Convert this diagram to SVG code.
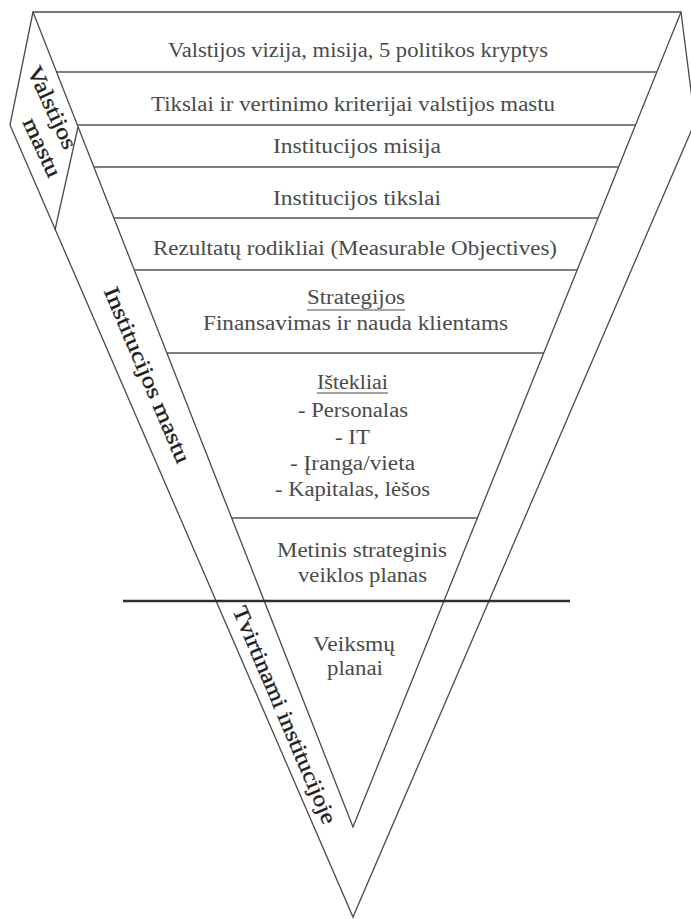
<svg xmlns="http://www.w3.org/2000/svg" width="691" height="919" viewBox="0 0 691 919">
  <style>
    .edge { fill: none; stroke: #4a4a4a; stroke-width: 1.3; stroke-linejoin: miter; }
    .tier { stroke: #555; stroke-width: 1.5; }
    .cut { stroke: #2e2e2e; stroke-width: 2.6; }
    .lbl { font-family: "Liberation Serif", "Times New Roman", serif; font-size: 20px; fill: #4a4a4a; text-anchor: middle; }
    .side { font-family: "Liberation Serif", "Times New Roman", serif; font-size: 22px; fill: #1e1e1e; stroke: #1e1e1e; stroke-width: 0.35; text-anchor: middle; }
    .ul { stroke: #4a4a4a; stroke-width: 1.1; }
  </style>
  <rect width="691" height="919" fill="#ffffff"/>

  <!-- outline of the funnel and its side bands -->
  <g id="connectors">
    <polygon class="edge" points="33,12 681,12 353,827"/>
    <polyline class="edge" points="33,12 10,125 353,917 695,122 681,12"/>
    <line class="edge" x1="78" y1="127" x2="55" y2="230"/>
    <line class="tier" x1="56.6" y1="72" x2="656.9" y2="72"/>
    <line class="tier" x1="77.4" y1="125" x2="635.5" y2="125"/>
    <line class="tier" x1="93.9" y1="167" x2="618.6" y2="167"/>
    <line class="tier" x1="113.9" y1="218" x2="598.1" y2="218"/>
    <line class="tier" x1="134.3" y1="270" x2="577.2" y2="270"/>
    <line class="tier" x1="166.9" y1="353" x2="543.8" y2="353"/>
    <line class="tier" x1="231.7" y1="518" x2="477.4" y2="518"/>
    <line class="cut" x1="123" y1="601" x2="570" y2="601"/>
  </g>

  <g id="tier-vision">
    <text class="lbl" x="358" y="57" textLength="380" lengthAdjust="spacingAndGlyphs">Valstijos vizija, misija, 5 politikos kryptys</text>
  </g>
  <g id="tier-state-goals">
    <text class="lbl" x="353" y="111" textLength="404" lengthAdjust="spacingAndGlyphs">Tikslai ir vertinimo kriterijai valstijos mastu</text>
  </g>
  <g id="tier-mission">
    <text class="lbl" x="357" y="153" textLength="168" lengthAdjust="spacingAndGlyphs">Institucijos misija</text>
  </g>
  <g id="tier-goals">
    <text class="lbl" x="357" y="205" textLength="168" lengthAdjust="spacingAndGlyphs">Institucijos tikslai</text>
  </g>
  <g id="tier-objectives">
    <text class="lbl" x="355" y="255" textLength="404" lengthAdjust="spacingAndGlyphs">Rezultatų rodikliai (Measurable Objectives)</text>
  </g>
  <g id="tier-strategies">
    <text class="lbl" x="356" y="304" textLength="98" lengthAdjust="spacingAndGlyphs">Strategijos</text>
    <line class="ul" x1="307" y1="310" x2="405" y2="310"/>
    <text class="lbl" x="355.5" y="330" textLength="305" lengthAdjust="spacingAndGlyphs">Finansavimas ir nauda klientams</text>
  </g>
  <g id="tier-resources">
    <text class="lbl" x="352.5" y="389" textLength="71" lengthAdjust="spacingAndGlyphs">Ištekliai</text>
    <line class="ul" x1="317" y1="393" x2="388" y2="393"/>
    <text class="lbl" x="353" y="417" textLength="110" lengthAdjust="spacingAndGlyphs">- Personalas</text>
    <text class="lbl" x="352.5" y="444" textLength="35" lengthAdjust="spacingAndGlyphs">- IT</text>
    <text class="lbl" x="352.5" y="470" textLength="125" lengthAdjust="spacingAndGlyphs">- Įranga/vieta</text>
    <text class="lbl" x="352.5" y="496" textLength="155" lengthAdjust="spacingAndGlyphs">- Kapitalas, lėšos</text>
  </g>
  <g id="tier-annual-plan">
    <text class="lbl" x="362" y="557" textLength="170" lengthAdjust="spacingAndGlyphs">Metinis strateginis</text>
    <text class="lbl" x="362.5" y="582" textLength="129" lengthAdjust="spacingAndGlyphs">veiklos planas</text>
  </g>
  <g id="tier-action-plans">
    <text class="lbl" x="354" y="651" textLength="82" lengthAdjust="spacingAndGlyphs">Veiksmų</text>
    <text class="lbl" x="355" y="675" textLength="56" lengthAdjust="spacingAndGlyphs">planai</text>
  </g>

  <g id="band-state">
    <text class="side" transform="translate(45.6,110.5) rotate(65)" textLength="89" lengthAdjust="spacingAndGlyphs">Valstijos</text>
    <text class="side" transform="translate(35.6,150.5) rotate(65)" textLength="63" lengthAdjust="spacingAndGlyphs">mastu</text>
  </g>
  <g id="band-institution">
    <text class="side" transform="translate(140.5,377.8) rotate(67)" textLength="189" lengthAdjust="spacingAndGlyphs">Institucijos mastu</text>
  </g>
  <g id="band-approved">
    <text class="side" transform="translate(278,717.8) rotate(67)" textLength="234" lengthAdjust="spacingAndGlyphs">Tvirtinami institucijoje</text>
  </g>
</svg>
